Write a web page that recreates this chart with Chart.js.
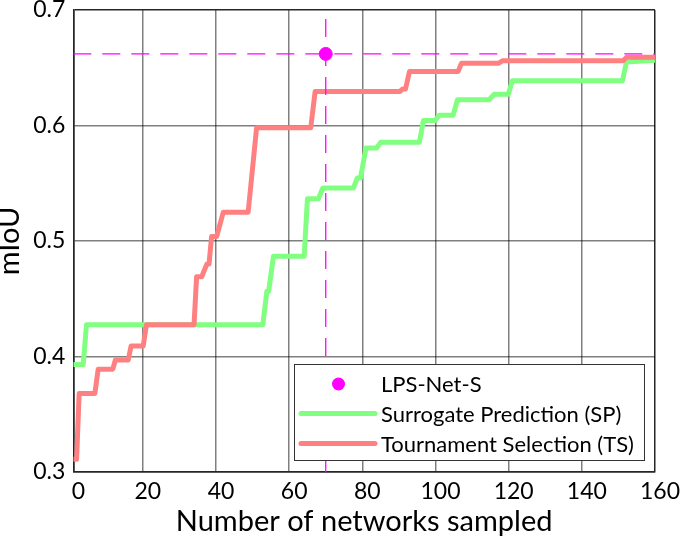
<!DOCTYPE html>
<html>
<head>
<meta charset="utf-8">
<script src="https://cdn.jsdelivr.net/npm/chart.js@4.4.1/dist/chart.umd.min.js"></script>
<style>
  html, body { margin: 0; padding: 0; background: #fff; }
  #wrap { width: 685px; height: 540px; }
</style>
</head>
<body>
<div id="wrap"><canvas id="chart" width="685" height="540"></canvas></div>
<script>
// corner points of the two best-so-far curves (x = networks sampled, y = mIoU)
const tsX = [1, 1.9, 2.6, 6.9, 7.8, 11.8, 12.5, 16, 16.8, 20.1, 21, 34, 34.7, 36.1, 37.5, 38.1, 38.8, 40.2, 42, 48.8, 51.1, 65.9, 67.1, 90.3, 91, 91.8, 92.9, 106.2, 107.1, 117.3, 118.3, 151.3, 152.2, 160];
const tsY = [0.311, 0.311, 0.368, 0.368, 0.389, 0.389, 0.397, 0.397, 0.409, 0.409, 0.4275, 0.4275, 0.469, 0.469, 0.48, 0.48, 0.504, 0.504, 0.525, 0.525, 0.598, 0.598, 0.6295, 0.6295, 0.6316, 0.6316, 0.6468, 0.6468, 0.654, 0.654, 0.656, 0.656, 0.659, 0.659];

const spX = [1, 3.7, 4.6, 52.8, 53.9, 54.4, 55.7, 64.1, 65, 68, 69.2, 77.6, 78.6, 79.5, 81, 83.9, 85, 95.6, 96.7, 99.9, 101, 104.8, 106, 114.7, 116, 119.9, 121, 151.1, 152.2, 160];
const spY = [0.393, 0.393, 0.4275, 0.4275, 0.4564, 0.4564, 0.4867, 0.4867, 0.5366, 0.5366, 0.5459, 0.5459, 0.5545, 0.5545, 0.5805, 0.5805, 0.5854, 0.5854, 0.6044, 0.6044, 0.6088, 0.6088, 0.6223, 0.6223, 0.627, 0.627, 0.6388, 0.6388, 0.655, 0.6564];

const lpsX = [70];
const lpsY = [0.662];

const xTicks = [0, 20, 40, 60, 80, 100, 120, 140, 160];
const yTicks = [0.3, 0.4, 0.5, 0.6, 0.7];
const xMin = 1, xMax = 160, yMin = 0.3, yMax = 0.7;

const labels = ['LPS-Net-S', 'Surrogate Prediction (SP)', 'Tournament Selection (TS)'];

const toPoints = (xs, ys) => xs.map((x, i) => ({ x: x, y: ys[i] }));

const GREEN = 'rgb(128,255,128)';
const RED = 'rgb(255,128,128)';
const MAGENTA = 'rgb(255,0,255)';
const FONT = 'Lato';

// legend box drawn inside the plot, like the matlab one
const boxLegend = {
    id: 'boxLegend',
    afterDraw(chart) {
        const ctx = chart.ctx;
        const x0 = 294.5, y0 = 364.5, w = 350, h = 96;
        ctx.save();
        ctx.fillStyle = '#fff';
        ctx.fillRect(x0, y0, w, h);
        ctx.strokeStyle = '#333';
        ctx.lineWidth = 1;
        ctx.strokeRect(x0, y0, w, h);

        const rows = [384, 413.5, 443.5];
        const items = chart.data.datasets.filter(d => d.inLegend).sort((a, b) => a.legendRow - b.legendRow);
        items.forEach((d, i) => {
            const y = rows[i];
            if (d.pointRadius > 0) {
                ctx.fillStyle = d.backgroundColor;
                ctx.beginPath();
                ctx.arc(338.5, y, 6.5, 0, Math.PI * 2);
                ctx.fill();
            } else {
                ctx.strokeStyle = d.borderColor;
                ctx.lineWidth = 5;
                ctx.lineCap = 'round';
                ctx.beginPath();
                ctx.moveTo(301, y);
                ctx.lineTo(375, y);
                ctx.stroke();
            }
            ctx.fillStyle = '#000';
            ctx.font = '22px ' + FONT;
            ctx.textBaseline = 'middle';
            ctx.textAlign = 'left';
            ctx.fillText(d.label, 381, y + 1);
        });
        ctx.restore();
    }
};

const edgeColor = (ctx, edges) => edges.includes(ctx.tick && ctx.tick.value) ? '#262626' : 'rgba(0,0,0,0.5)';

new Chart(document.getElementById('chart'), {
    type: 'scatter',
    data: {
        datasets: [
            {
                label: labels[0],
                data: toPoints(lpsX, lpsY),
                backgroundColor: MAGENTA,
                borderColor: MAGENTA,
                pointRadius: 6.5,
                pointHoverRadius: 6.5,
                showLine: false,
                order: 0,
                inLegend: true,
                legendRow: 0
            },
            {
                label: 'lps-h',
                data: toPoints([xMin, xMax], [lpsY[0], lpsY[0]]),
                borderColor: MAGENTA,
                borderWidth: 1.3,
                borderDash: [18, 11],
                pointRadius: 0,
                showLine: true,
                order: 1
            },
            {
                label: 'lps-v',
                data: toPoints([lpsX[0], lpsX[0]], [yMin, yMax]),
                borderColor: MAGENTA,
                borderWidth: 1.3,
                borderDash: [18, 11],
                pointRadius: 0,
                showLine: true,
                order: 1
            },
            {
                label: labels[2],
                data: toPoints(tsX, tsY),
                borderColor: RED,
                backgroundColor: RED,
                borderWidth: 5,
                borderJoinStyle: 'round',
                pointRadius: 0,
                showLine: true,
                order: 2,
                inLegend: true,
                legendRow: 2
            },
            {
                label: labels[1],
                data: toPoints(spX, spY),
                borderColor: GREEN,
                backgroundColor: GREEN,
                borderWidth: 5,
                borderJoinStyle: 'round',
                pointRadius: 0,
                showLine: true,
                order: 3,
                inLegend: true,
                legendRow: 1
            }
        ]
    },
    options: {
        responsive: false,
        animation: false,
        layout: { padding: { top: 10, right: 30, left: 0, bottom: 0 } },
        plugins: {
            legend: { display: false },
            tooltip: { enabled: false }
        },
        scales: {
            x: {
                type: 'linear',
                min: xMin,
                max: xMax,
                afterBuildTicks: (scale) => {
                    scale.ticks = xTicks.map(v => ({ value: v === 0 ? xMin : v }));
                },
                afterFit: (scale) => {
                    scale.height = 68;
                    scale.paddingLeft = 0;
                    scale.paddingRight = 0;
                },
                ticks: {
                    callback: (v) => v === xMin ? '0' : String(v),
                    font: { family: FONT, size: 23 },
                    color: '#000',
                    padding: 6,
                    labelOffset: 5,
                    maxRotation: 0,
                    autoSkip: false
                },
                grid: {
                    color: (ctx) => edgeColor(ctx, [xMin, xMax]),
                    lineWidth: 1.5,
                    drawTicks: false
                },
                border: { color: '#262626', width: 1.5 },
                title: {
                    display: true,
                    text: 'Number of networks sampled',
                    font: { family: FONT, size: 29 },
                    color: '#000',
                    padding: { top: 0, bottom: 1 }
                }
            },
            y: {
                min: yMin,
                max: yMax,
                afterBuildTicks: (scale) => {
                    scale.ticks = yTicks.map(v => ({ value: v }));
                },
                afterFit: (scale) => {
                    scale.width = 73.3;
                    scale.paddingTop = 0;
                    scale.paddingBottom = 0;
                },
                ticks: {
                    callback: (v) => v.toFixed(1),
                    font: { family: FONT, size: 23 },
                    color: '#000',
                    padding: 8
                },
                grid: {
                    color: (ctx) => edgeColor(ctx, [yMin, yMax]),
                    lineWidth: 1.5,
                    drawTicks: false
                },
                border: { color: '#262626', width: 1.5 },
                title: {
                    display: true,
                    text: 'mIoU',
                    font: { family: FONT, size: 29, lineHeight: 0.68 },
                    color: '#000',
                    padding: { top: 0, bottom: 0 }
                }
            }
        }
    },
    plugins: [boxLegend]
});
</script>
</body>
</html>
